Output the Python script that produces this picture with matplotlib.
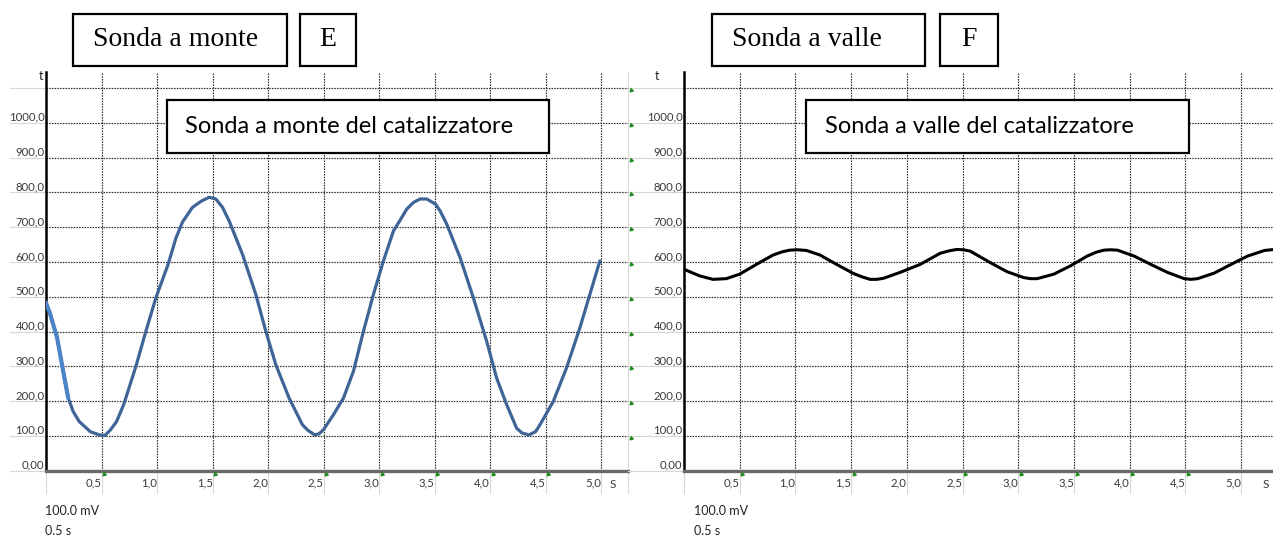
import matplotlib
matplotlib.use("Agg")
import matplotlib.pyplot as plt
import matplotlib.transforms as mtransforms
from matplotlib.patches import Rectangle

# ---------------- data ----------------
left_t = [0.0, 0.035, 0.10, 0.155, 0.20, 0.245, 0.30, 0.40, 0.48, 0.53, 0.58, 0.635,
          0.70, 0.81, 0.90, 0.99, 1.10, 1.17, 1.23, 1.32, 1.40, 1.47, 1.53, 1.59,
          1.65, 1.77, 1.89, 1.98, 2.07, 2.19, 2.31, 2.36, 2.42, 2.46, 2.50, 2.59,
          2.68, 2.77, 2.86, 2.95, 3.04, 3.13, 3.19, 3.25, 3.31, 3.37, 3.43, 3.51,
          3.55, 3.61, 3.73, 3.85, 3.97, 4.06, 4.15, 4.24, 4.29, 4.35, 4.41, 4.45,
          4.57, 4.69, 4.81, 4.90, 4.99]
left_v = [483, 453, 382, 286, 209, 170, 141, 112, 103, 101, 117, 141,
          190, 300, 401, 497, 593, 668, 715, 757, 775, 786, 781, 757,
          718, 622, 507, 401, 305, 209, 132, 116, 103, 106, 118, 161,
          209, 286, 401, 507, 603, 689, 720, 752, 771, 781, 781, 766,
          747, 709, 613, 497, 372, 266, 190, 122, 108, 103, 112, 132,
          199, 296, 411, 507, 603]
left_highlight_n = 5  # first points drawn in lighter blue

right_t = [0.0, 0.14, 0.26, 0.38, 0.50, 0.65, 0.80, 0.88, 0.95, 1.02, 1.10, 1.22,
           1.37, 1.52, 1.60, 1.67, 1.73, 1.79, 1.94, 2.12, 2.30, 2.38, 2.45, 2.51,
           2.57, 2.75, 2.90, 3.05, 3.11, 3.17, 3.32, 3.47, 3.62, 3.70, 3.77, 3.83,
           3.89, 4.04, 4.19, 4.34, 4.49, 4.55, 4.61, 4.76, 4.91, 5.06, 5.21, 5.30]
right_v = [579, 560, 550, 552, 565, 593, 620, 629, 634, 635, 633, 620,
           593, 567, 557, 550, 550, 553, 570, 593, 625, 632, 636, 635,
           631, 598, 572, 555, 552, 552, 565, 589, 617, 628, 634, 635,
           634, 617, 593, 570, 552, 550, 552, 568, 593, 617, 633, 636]

y_ticks = [0, 100, 200, 300, 400, 500, 600, 700, 800, 900, 1000, 1100]
y_labels = ["0,00", "100,0", "200,0", "300,0", "400,0", "500,0", "600,0",
            "700,0", "800,0", "900,0", "1000,0", ""]
x_ticks = [0.5, 1.0, 1.5, 2.0, 2.5, 3.0, 3.5, 4.0, 4.5, 5.0]
x_labels = ["0,5", "1,0", "1,5", "2,0", "2,5", "3,0", "3,5", "4,0", "4,5", "5,0"]
green_left = [0.5, 1.5, 2.5, 3.0, 3.5, 4.0, 4.5]
green_right = [0.5, 1.5, 2.5, 3.0, 3.5, 4.0, 4.5]

title_left = "Sonda a monte"
letter_left = "E"
title_right = "Sonda a valle"
letter_right = "F"
inner_left = "Sonda a monte del catalizzatore"
inner_right = "Sonda a valle del catalizzatore"
scale_v = "100.0 mV"
scale_t = "0.5 s"

# ---------------- layout ----------------
W, H = 1273, 538
fig = plt.figure(figsize=(W / 100, H / 100), dpi=100)
fig.patch.set_facecolor("white")

Y0, Y1 = 470.7, 72.0
YMAX = 1146
lbl_font = ["Lato", "DejaVu Sans"]


def fx(px):
    return px / W


def fy(py):
    return 1 - py / H


def make_axes(x0px, x1px, xmax, ext_left_px):
    ax = fig.add_axes([fx(x0px), fy(Y0), (x1px - x0px) / W, (Y0 - Y1) / H])
    ax.set_xlim(0, xmax)
    ax.set_ylim(0, YMAX)
    for s in ("top", "right"):
        ax.spines[s].set_visible(False)
    ax.spines["left"].set_color("black")
    ax.spines["left"].set_linewidth(1.8)
    ax.spines["bottom"].set_color("#6a6a6a")
    ax.spines["bottom"].set_linewidth(2.4)
    ax.set_yticks(y_ticks, y_labels)
    ax.set_xticks(x_ticks, x_labels)
    ax.tick_params(axis="y", length=0, pad=1, labelsize=8.2, labelcolor="#3a3a3a")
    ax.tick_params(axis="x", length=0, pad=5, labelsize=8.2, labelcolor="#3a3a3a")
    for lab in ax.get_yticklabels():
        lab.set_va("bottom")
        lab.set_family(lbl_font)
    for lab in ax.get_xticklabels():
        lab.set_ha("right")
        lab.set_family(lbl_font)
    ax.grid(True, color="#2a2a2a", linestyle=(0, (1.3, 1.0)), linewidth=0.85)
    ax.set_axisbelow(True)
    # light "cell" lines outside the plot area
    tr_y = mtransforms.blended_transform_factory(ax.transAxes, ax.transData)
    left_ext = -(x0px - ext_left_px) / (x1px - x0px)
    for yv in y_ticks:
        ax.plot([left_ext, 0], [yv, yv], transform=tr_y, color="#d6d6d6",
                lw=0.8, clip_on=False, zorder=0)
    tr_x = mtransforms.blended_transform_factory(ax.transData, ax.transAxes)
    for xv in [0] + x_ticks:
        ax.plot([xv, xv], [0, -22.5 / (Y0 - Y1)], transform=tr_x,
                color="#d6d6d6", lw=0.8, clip_on=False, zorder=0)
    return ax


axL = make_axes(46, 628, (628 - 46) / 111.0, 10)
axR = make_axes(684, 1273, (1273 - 684) / 111.4, 628)

# curves
axL.plot(left_t, left_v, color="#3f6497", lw=2.3, solid_capstyle="round",
         solid_joinstyle="round", zorder=3)
axL.plot(left_t[:left_highlight_n], left_v[:left_highlight_n], color="#4d84c8",
         lw=3.0, solid_capstyle="round", solid_joinstyle="round", zorder=4)
axR.plot(right_t, right_v, color="black", lw=2.2, solid_capstyle="round",
         solid_joinstyle="round", zorder=3)

# small green markers on the time axis
for ax, gx in ((axL, green_left), (axR, green_right)):
    trx = mtransforms.blended_transform_factory(ax.transData, ax.transAxes)
    ax.scatter([g + 0.025 for g in gx], [-0.008] * len(gx), marker=(3, 0, 15),
               s=7, color="#1d8a1d", transform=trx, clip_on=False, zorder=5)
# green markers in the column between panels (just under each gridline)
trg = mtransforms.blended_transform_factory(fig.transFigure, axR.transData)
axR.scatter([fx(631)] * 11, [v - 6 for v in y_ticks[1:]], marker=(3, 0, 15),
            s=7, color="#1d8a1d", transform=trg, clip_on=False, zorder=5)
fig.add_artist(plt.Line2D([fx(628), fx(628)], [fy(493), fy(72)],
                          color="#dcdcdc", lw=0.8, zorder=0))

# "S" unit labels
axL.text(5.11, -0.035, "S", transform=mtransforms.blended_transform_factory(
    axL.transData, axL.transAxes), ha="center", va="center", fontsize=8.5,
    color="#3a3a3a", family=lbl_font)
axR.text(5.22, -0.035, "S", transform=mtransforms.blended_transform_factory(
    axR.transData, axR.transAxes), ha="center", va="center", fontsize=8.5,
    color="#3a3a3a", family=lbl_font)

# "t" labels
fig.text(fx(41), fy(76), "t", fontsize=9, ha="center", va="center",
         color="#222222", family=lbl_font)
fig.text(fx(657), fy(76), "t", fontsize=9, ha="center", va="center",
         color="#222222", family=lbl_font)

# scale notes
for xp in (45, 694):
    fig.text(fx(xp), fy(511), scale_v, fontsize=9, ha="left", va="center",
             color="#222222", family=lbl_font)
    fig.text(fx(xp), fy(531), scale_t, fontsize=9, ha="left", va="center",
             color="#222222", family=lbl_font)


def box(x0, y0, x1, y1, text, tx, ha, family, size):
    r = Rectangle((fx(x0), fy(y1)), (x1 - x0) / W, (y1 - y0) / H,
                  transform=fig.transFigure, facecolor="white",
                  edgecolor="black", lw=1.6, zorder=10)
    fig.add_artist(r)
    fig.text(fx(tx), fy((y0 + y1) / 2), text, ha=ha, va="center",
             fontsize=size, family=family, color="black", zorder=11)


serif = ["Liberation Serif", "DejaVu Serif"]
box(73, 14, 287, 66, title_left, 93, "left", serif, 20)
box(300, 14, 356, 66, letter_left, 328, "center", serif, 20)
box(712, 14, 925, 66, title_right, 732, "left", serif, 20)
box(940, 14, 998, 66, letter_right, 969, "center", serif, 20)
box(167, 100, 549, 153, inner_left, 185, "left", lbl_font, 17)
box(806, 100, 1189, 153, inner_right, 825, "left", lbl_font, 17)

fig.savefig("out.png", dpi=100)
